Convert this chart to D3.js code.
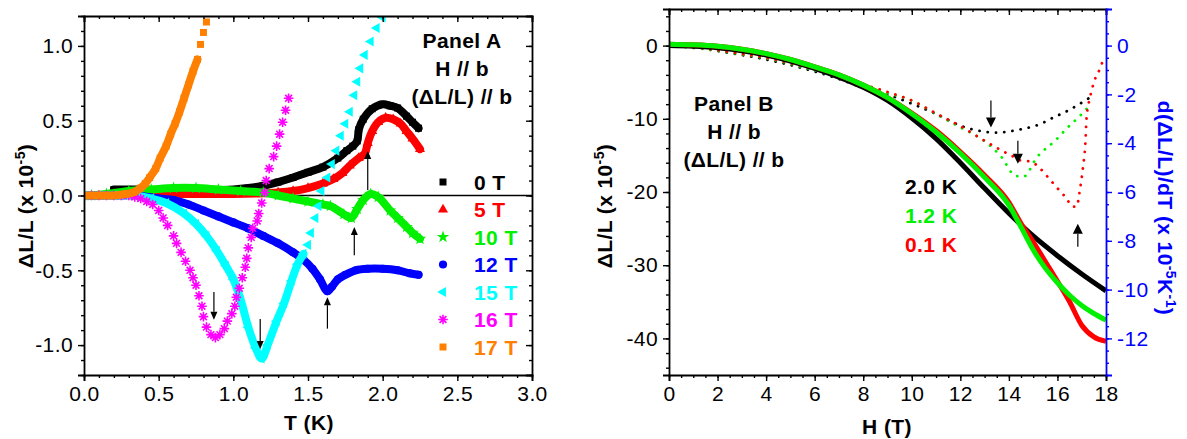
<!DOCTYPE html>
<html>
<head>
<meta charset="utf-8">
<script src="https://cdn.jsdelivr.net/npm/d3@7"></script>
<style>
  body { margin: 0; background: #fff; }
  text { font-family: "Liberation Sans", Arial, sans-serif; letter-spacing: 0.4px; }
</style>
</head>
<body>
<script>

// ---------------- Panel A : dL/L (x 1e-5) vs T (K) ----------------
const tickAx = [0, 0.5, 1, 1.5, 2, 2.5, 3];
const tickAy = [-1, -0.5, 0, 0.5, 1];

const a0T = [[0.2,0.04],[0.3,0.04],[0.4,0.04],[0.5,0.035],[0.6,0.03],[0.7,0.03],[0.8,0.03],[0.9,0.035],[1.0,0.04],[1.1,0.05],[1.2,0.065],[1.3,0.09],[1.4,0.12],[1.5,0.155],[1.6,0.19],[1.7,0.25],[1.76,0.3],[1.8,0.33],[1.83,0.365],[1.84,0.44],[1.87,0.51],[1.93,0.58],[2.0,0.61],[2.05,0.6],[2.1,0.585],[2.16,0.53],[2.2,0.49],[2.24,0.45]];
const a5T = [[0,0],[0.1,0],[0.2,0.01],[0.4,0.01],[0.6,0.01],[0.8,0.01],[1.0,0.01],[1.2,0.015],[1.3,0.02],[1.4,0.03],[1.5,0.05],[1.6,0.08],[1.67,0.11],[1.73,0.15],[1.78,0.2],[1.84,0.25],[1.88,0.28],[1.9,0.35],[1.93,0.43],[1.97,0.49],[2.02,0.52],[2.07,0.51],[2.12,0.48],[2.16,0.43],[2.2,0.38],[2.25,0.31]];
const a10T = [[0.05,0],[0.15,0.01],[0.3,0.03],[0.45,0.04],[0.6,0.05],[0.75,0.05],[0.9,0.04],[1.05,0.03],[1.2,0.02],[1.3,0],[1.4,-0.02],[1.5,-0.04],[1.6,-0.06],[1.65,-0.07],[1.74,-0.125],[1.79,-0.15],[1.83,-0.09],[1.87,-0.03],[1.92,0.01],[1.97,-0.01],[2.05,-0.1],[2.1,-0.15],[2.16,-0.21],[2.2,-0.25],[2.25,-0.29]];
const a12T = [[0,0],[0.2,0],[0.35,0],[0.5,-0.02],[0.6,-0.03],[0.7,-0.06],[0.8,-0.1],[0.9,-0.14],[1.0,-0.18],[1.1,-0.22],[1.2,-0.27],[1.3,-0.32],[1.4,-0.38],[1.47,-0.43],[1.53,-0.49],[1.58,-0.56],[1.63,-0.64],[1.66,-0.61],[1.7,-0.56],[1.75,-0.53],[1.82,-0.5],[1.9,-0.49],[2.0,-0.49],[2.1,-0.5],[2.18,-0.52],[2.24,-0.53]];
const a15T = [[0,0],[0.2,0],[0.33,0],[0.45,-0.02],[0.55,-0.05],[0.67,-0.12],[0.75,-0.19],[0.82,-0.27],[0.89,-0.37],[0.95,-0.47],[1.0,-0.56],[1.05,-0.7],[1.1,-0.88],[1.15,-1.02],[1.19,-1.09],[1.23,-1.0],[1.29,-0.84],[1.34,-0.72],[1.39,-0.57],[1.43,-0.46],[1.47,-0.39]];
const a15Tsparse = [[1.5,-0.33],[1.52,-0.25],[1.55,-0.15],[1.57,-0.07],[1.59,0.03],[1.63,0.12],[1.66,0.21],[1.69,0.3],[1.72,0.4],[1.75,0.48],[1.78,0.56],[1.81,0.67],[1.83,0.76],[1.85,0.85],[1.88,0.94],[1.92,1.03],[1.96,1.12],[2.0,1.19]];
const a16Tsparse = [[0,0],[0.05,0],[0.1,0],[0.15,0],[0.2,0],[0.25,0],[0.3,0],[0.34,-0.01],[0.38,-0.02],[0.42,-0.04],[0.46,-0.06],[0.5,-0.1],[0.53,-0.15],[0.56,-0.2],[0.6,-0.27],[0.62,-0.32],[0.65,-0.38],[0.68,-0.44],[0.71,-0.5],[0.73,-0.55],[0.75,-0.6],[0.77,-0.67],[0.79,-0.74],[0.8,-0.81],[0.82,-0.88],[0.85,-0.93],[0.88,-0.95],[0.91,-0.93],[0.94,-0.89],[0.96,-0.84],[0.99,-0.79],[1.01,-0.74],[1.02,-0.68],[1.04,-0.62],[1.06,-0.55],[1.08,-0.48],[1.09,-0.42],[1.1,-0.35],[1.12,-0.28],[1.13,-0.22],[1.16,-0.17],[1.17,-0.12],[1.19,-0.05],[1.21,0.02],[1.22,0.1],[1.24,0.18],[1.27,0.26],[1.29,0.33],[1.31,0.41],[1.33,0.49],[1.35,0.57],[1.37,0.65]];
const a17T = [[0,0],[0.1,0],[0.2,0],[0.28,0.01],[0.33,0.02],[0.38,0.05],[0.41,0.08],[0.44,0.12],[0.48,0.18],[0.51,0.25],[0.55,0.33],[0.58,0.41],[0.61,0.48],[0.64,0.56],[0.67,0.65],[0.7,0.74],[0.73,0.83],[0.76,0.91]];
const a17Tsparse = [[0.78,1.01],[0.8,1.09],[0.82,1.16]];

// arrows : [T, from, to]
const arrowsA = [[1.9,0.037,0.297],[1.81,-0.40,-0.21],[1.63,-0.89,-0.68],[0.87,-0.645,-0.83],[1.18,-0.825,-1.026]];

// ---------------- Panel B : dL/L vs H (T), derivative on right ----------------
const tickBx = [0, 2, 4, 6, 8, 10, 12, 14, 16, 18];
const tickBy = [-40, -30, -20, -10, 0];
const tickBr = [-12, -10, -8, -6, -4, -2, 0];

const b20K = [[0,0],[1,-0.1],[2,-0.3],[3,-0.7],[4,-1.3],[5,-2.1],[6,-3.1],[7,-4.3],[8,-5.7],[9,-7.5],[10,-9.9],[11,-12.7],[12,-16.0],[13,-19.5],[14,-22.9],[15,-26.0],[16,-28.7],[17,-31.2],[18,-33.5]];
const b12K = [[0,0.2],[1,0.1],[2,-0.1],[3,-0.5],[4,-1.1],[5,-1.9],[6,-2.9],[7,-4.0],[8,-5.4],[9,-7.1],[10,-9.3],[11,-11.8],[12,-14.7],[13,-18.0],[14,-21.8],[14.5,-24.8],[15,-27.9],[15.5,-30.4],[16,-32.4],[16.5,-34.1],[17,-35.5],[17.5,-36.6],[18,-37.5]];
const b01K = [[0,0.2],[1,0.1],[2,-0.1],[3,-0.5],[4,-1.1],[5,-1.9],[6,-2.9],[7,-4.0],[8,-5.4],[9,-7.1],[10,-9.2],[11,-11.6],[12,-14.5],[13,-17.7],[14,-21.4],[14.5,-24.3],[15,-26.8],[15.5,-29.5],[16,-32.2],[16.5,-35.0],[17,-38.2],[17.5,-39.8],[18,-40.4]];

const d20K = [[0,0],[1.3,-0.12],[2.6,-0.32],[4,-0.57],[5.4,-0.9],[6.8,-1.3],[8.1,-1.75],[9,-2.0],[10,-2.38],[11,-2.8],[12,-3.28],[13,-3.53],[13.5,-3.57],[14,-3.52],[14.6,-3.41],[15.2,-3.25],[15.85,-2.94],[16.5,-2.63],[17.35,-2.12]];
const d12K = [[0,0],[1.3,-0.12],[2.6,-0.3],[4,-0.52],[5.4,-0.85],[6.8,-1.25],[8.1,-1.7],[9,-1.95],[10,-2.25],[11,-2.8],[12,-3.35],[13,-3.92],[13.7,-4.57],[14.26,-5.33],[14.6,-5.37],[15.16,-4.57],[15.9,-3.9],[16.5,-3.28],[16.94,-2.87],[17.26,-2.53]];
const d01K = [[0,0],[1.3,-0.1],[2.6,-0.28],[4,-0.5],[5.4,-0.82],[6.8,-1.2],[8.1,-1.62],[9,-1.9],[10,-2.25],[11,-2.78],[12,-3.3],[13,-3.9],[13.7,-4.3],[14.1,-4.5],[14.45,-4.7],[14.9,-4.75],[15.3,-5.05],[15.7,-5.5],[16.05,-5.9],[16.4,-6.3],[16.6,-6.6],[16.8,-6.6],[16.9,-6.07],[17.05,-5.0],[17.15,-4.0],[17.2,-2.95],[17.35,-2.1],[17.55,-1.37],[17.75,-0.95],[17.9,-0.53]];

// arrows : [H, from, to] in derivative units
const arrowsB = [[13.26,-2.25,-3.36],[14.37,-3.9,-4.84],[16.84,-8.24,-7.3]];


var svg = d3.select("body").append("svg")
      .attr("width", 1187)
      .attr("height", 439);

const fmt1 = d => d3.format(".1f")(d).replace("\u2212", "-");
const fmt0 = d => d3.format("d")(d).replace("\u2212", "-");

// one axis = a minor group + a major group
function axis(gen, scale, major, minor, len, fmt, pos, color) {
  const g = svg.append("g").attr("transform", pos);
  g.append("g").call(gen(scale).tickValues(minor).tickSize(len / 2).tickFormat(""))
    .select(".domain").remove();
  const m = g.append("g").call(gen(scale).tickValues(major).tickSize(len).tickPadding(5).tickFormat(fmt));
  g.selectAll("line").attr("stroke", color).attr("stroke-width", 1.4);
  g.selectAll(".domain").attr("stroke", color).attr("stroke-width", 1.8);
  m.selectAll("text").attr("fill", color).attr("font-size", 21)
    .style("font-family", '"Liberation Sans", Arial, sans-serif');
  return g;
}

function shapePath(shape) {
  if (shape == "square") return d3.symbol(d3.symbolSquare, 49)();
  if (shape == "up" || shape == "left") return d3.symbol(d3.symbolTriangle, 44)();
  if (shape == "star") return d3.symbol(d3.symbolStar, 48)();
  if (shape == "circle") return d3.symbol(d3.symbolCircle, 52)();
  var r = 4.8, a = 3.4;
  return "M0," + (-r) + "V" + r + "M" + (-r) + ",0H" + r + "M" + (-a) + "," + (-a) + "L" + a + "," + a + "M" + (-a) + "," + a + "L" + a + "," + (-a);
}

function drawMarks(g, pts, s, x, y) {
  const m = g.selectAll(null).data(pts).join("path")
    .attr("transform", d => "translate(" + x(d[0]) + "," + y(d[1]) + ")" + (s.shape == "left" ? " rotate(-90)" : ""))
    .attr("d", shapePath(s.shape));
  if (s.shape == "asterisk") m.attr("fill", "none").attr("stroke", s.color).attr("stroke-width", 1.6);
  else m.attr("fill", s.color);
}

function arrow(g, x, y1, y2, hw, hl) {
  const dir = Math.sign(y2 - y1);
  g.append("line").attr("x1", x).attr("x2", x).attr("y1", y1).attr("y2", y2 - dir * hl)
    .attr("stroke", "#000").attr("stroke-width", 1.2);
  g.append("path").attr("d", "M" + x + "," + y2 + "L" + (x - hw) + "," + (y2 - dir * hl) + "L" + (x + hw) + "," + (y2 - dir * hl) + "Z")
    .attr("fill", "#000");
}

function label(x, y, rot, color, parts) {
  const t = svg.append("text").attr("transform", "translate(" + x + "," + y + ") rotate(" + rot + ")")
    .attr("text-anchor", "middle").attr("font-weight", "bold").attr("font-size", 21).attr("fill", color);
  parts.forEach(p => {
    t.append("tspan").attr("font-size", p[1] ? 14 : 21).attr("dy", p[1] ? -8 : (p[2] ? 8 : 0)).text(p[0]);
  });
  return t;
}

// ================= Panel A =================
const xA = d3.scaleLinear().domain([0, 3]).range([84, 532]);
const yA = d3.scaleLinear().domain([-1.2, 1.2]).range([375, 16]);

svg.append("clipPath").attr("id", "clipA").append("rect")
  .attr("x", 84).attr("y", 16).attr("width", 448).attr("height", 359);

const gA = svg.append("g").attr("clip-path", "url(#clipA)");

gA.append("line").attr("x1", xA(0)).attr("x2", xA(3)).attr("y1", yA(0)).attr("y2", yA(0))
  .attr("stroke", "#000").attr("stroke-width", 1.6);

const seriesA = [
  {name: "0 T",  color: "#000000", shape: "square",   band: a0T,  dots: []},
  {name: "5 T",  color: "#ff0000", shape: "up",       band: a5T,  dots: []},
  {name: "10 T", color: "#00f000", shape: "star",     band: a10T, dots: []},
  {name: "12 T", color: "#0000ff", shape: "circle",   band: a12T, dots: []},
  {name: "15 T", color: "#00ffff", shape: "left",     band: a15T, dots: a15Tsparse},
  {name: "16 T", color: "#ff00ff", shape: "asterisk", band: [],   dots: a16Tsparse},
  {name: "17 T", color: "#ff8000", shape: "square",   band: a17T, dots: a17Tsparse}
];

const lineA = d3.line().x(d => xA(d[0])).y(d => yA(d[1])).curve(d3.curveCatmullRom);

seriesA.forEach(s => {
  if (s.band.length) {
    gA.append("path").datum(s.band).attr("d", lineA)
      .attr("fill", "none").attr("stroke", s.color).attr("stroke-width", 8)
      .attr("stroke-linejoin", "round").attr("stroke-linecap", "round");
    drawMarks(gA.append("g"), s.band, s, xA, yA);
  }
  drawMarks(gA.append("g"), s.dots, s, xA, yA);
});

arrowsA.forEach(a => arrow(svg.append("g"), xA(a[0]), yA(a[1]), yA(a[2]), 3.5, 8));

// axes A
axis(d3.axisBottom, xA, tickAx, d3.range(0, 3.01, 0.1), 6, fmt1, "translate(0,375)", "#000");
axis(d3.axisTop, xA, tickAx, d3.range(0, 3.01, 0.1), -6, "", "translate(0,16)", "#000");
axis(d3.axisLeft, yA, tickAy, d3.range(-12, 12.1, 1).map(d => d / 10), 6, fmt1, "translate(84,0)", "#000");
axis(d3.axisRight, yA, tickAy, d3.range(-12, 12.1, 1).map(d => d / 10), -6, "", "translate(532,0)", "#000");

// legend A
seriesA.forEach((s, i) => {
  const yy = 182 + i * 27.5;
  drawMarks(svg.append("g"), [[0, 0]], s, d => 443, d => yy);
  svg.append("text").attr("x", 474).attr("y", yy + 7.5).attr("font-size", 21)
    .attr("font-weight", "bold").attr("fill", s.color).text(s.name);
});

[["Panel A", 48], ["H // b", 76], ["(\u0394L/L) // b", 104]].forEach(t => {
  svg.append("text").attr("x", 462).attr("y", t[1]).attr("text-anchor", "middle")
    .attr("font-size", 21).attr("font-weight", "bold").text(t[0]);
});

label(33, 206, -90, "#000", [["\u0394L/L (x 10"], ["-5", true], [")", false, true]]);
label(309, 430, 0, "#000", [["T (K)"]]);

// ================= Panel B =================
const xB = d3.scaleLinear().domain([0, 18]).range([669, 1106]);
const yB = d3.scaleLinear().domain([-45, 5]).range([375, 9]);
const yR = d3.scaleLinear().domain([-13.5, 1.5]).range([375, 9]);

svg.append("clipPath").attr("id", "clipB").append("rect")
  .attr("x", 669).attr("y", 9).attr("width", 437).attr("height", 366);

const gB = svg.append("g").attr("clip-path", "url(#clipB)");

const dotsB = [
  {color: "#000000", data: d20K},
  {color: "#00f000", data: d12K},
  {color: "#ff0000", data: d01K}
];
const lineR = d3.line().x(d => xB(d[0])).y(d => yR(d[1])).curve(d3.curveMonotoneX);
dotsB.forEach(s => {
  gB.append("path").datum(s.data).attr("d", lineR)
    .attr("fill", "none").attr("stroke", s.color).attr("stroke-width", 2.8)
    .attr("stroke-linecap", "round").attr("stroke-dasharray", "0.1,8.2");
});

const curvesB = [
  {name: "2.0 K", color: "#000000", data: b20K},
  {name: "0.1 K", color: "#ff0000", data: b01K},
  {name: "1.2 K", color: "#00f000", data: b12K}
];
const lineB = d3.line().x(d => xB(d[0])).y(d => yB(d[1])).curve(d3.curveMonotoneX);
curvesB.forEach(s => {
  gB.append("path").datum(s.data).attr("d", lineB)
    .attr("fill", "none").attr("stroke", s.color).attr("stroke-width", 5)
    .attr("stroke-linejoin", "round");
});

arrowsB.forEach(a => arrow(svg.append("g"), xB(a[0]), yR(a[1]), yR(a[2]), 5, 10));

// axes B
axis(d3.axisBottom, xB, tickBx, d3.range(0, 18.01, 0.5), 6, fmt0, "translate(0,375)", "#000");
axis(d3.axisTop, xB, tickBx, d3.range(0, 18.01, 0.5), -6, "", "translate(0,9)", "#000");
axis(d3.axisLeft, yB, tickBy, d3.range(-44, 4.1, 2), 6, fmt0, "translate(669,0)", "#000");
axis(d3.axisRight, yR, tickBr, d3.range(-13.5, 1.6, 0.5), 6, fmt0, "translate(1106,0)", "#0000ff");

[["2.0 K", "#000000", 194], ["1.2 K", "#00f000", 223], ["0.1 K", "#ff0000", 252]].forEach(t => {
  svg.append("text").attr("x", 905).attr("y", t[2]).attr("font-size", 21)
    .attr("font-weight", "bold").attr("fill", t[1]).text(t[0]);
});

[["Panel B", 111], ["H // b", 139], ["(\u0394L/L) // b", 167]].forEach(t => {
  svg.append("text").attr("x", 734).attr("y", t[1]).attr("text-anchor", "middle")
    .attr("font-size", 21).attr("font-weight", "bold").text(t[0]);
});

label(612, 206, -90, "#000", [["\u0394L/L (x 10"], ["-5", true], [")", false, true]]);
label(887, 434, 0, "#000", [["H (T)"]]);
label(1158, 208, 90, "#0000ff", [["d(\u0394L/L)/dT (x 10"], ["-5", true], ["K", false, true], ["-1", true], [")", false, true]]);

</script>
</body>
</html>
